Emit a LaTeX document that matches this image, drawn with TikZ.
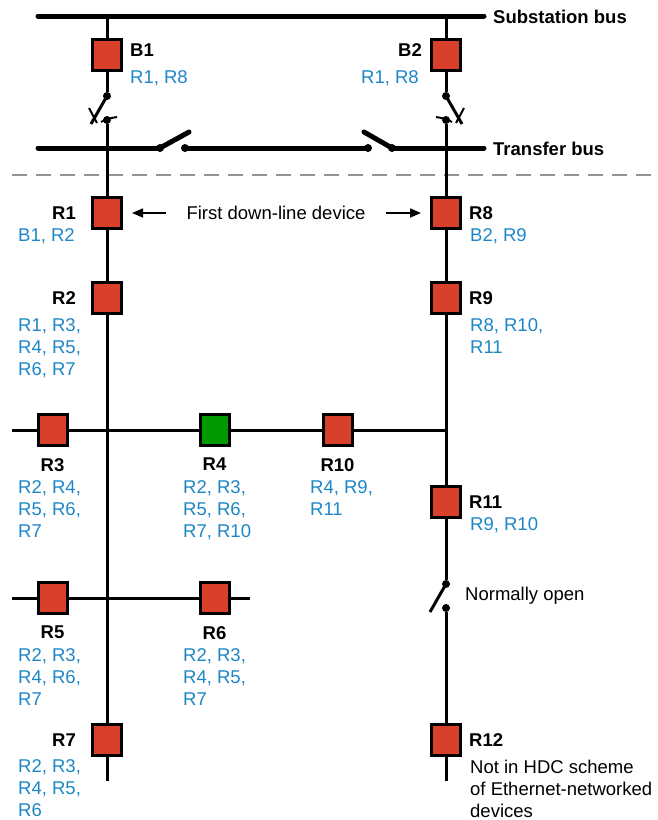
\documentclass[tikz,border=0pt]{standalone}
\usepackage{fontspec}
\setmainfont{Liberation Sans}
\usetikzlibrary{positioning,arrows.meta}
\definecolor{boxred}{HTML}{D9402A}
\definecolor{boxgreen}{HTML}{009A00}
\definecolor{nbblue}{HTML}{1C86C6}

\begin{document}
\begin{tikzpicture}[x=1pt, y=-1pt,
  Rb/.style={draw, line width=3pt, fill=boxred, minimum width=29pt,
    minimum height=31pt, inner sep=0pt},
  Gb/.style={Rb, fill=boxgreen},
  nm/.style={font=\fontsize{18.5}{22}\selectfont\bfseries, inner sep=0pt},
  nb/.style={font=\fontsize{18.5}{22}\selectfont, text=nbblue, align=left,
    inner sep=0pt},
  nt/.style={nb, text=black},
  bus/.style={line width=5pt, line cap=round},
  wire/.style={line width=3pt},
  Sd/.style={circle, fill, inner sep=0pt, minimum size=8pt},
  arr/.style={line width=1.5pt, -{Triangle[length=11pt,width=9pt]}}]
\useasboundingbox (0,0) rectangle (657,820);

% buses
\coordinate (sbL) at (38,16);
\coordinate (sbR) at (484,16);
\draw[bus] (sbL) -- (sbR);
\node[nm, anchor=west] (sbus) at (493,17) {Substation bus};

\node[Sd] (s1a) at (160,148) {};
\node[Sd] (s1b) at (185,148) {};
\node[Sd] (s2a) at (368,148) {};
\node[Sd] (s2b) at (392,148) {};
\coordinate (tbL) at (38,148);
\coordinate (tbR) at (484,148);
\draw[bus] (tbL) -- (s1a.center);
\draw[bus] (s1b.center) -- (s2a.center);
\draw[bus] (s2b.center) -- (tbR);
\draw[bus] (s1a.center) -- (189,132);
\draw[bus] (s2b.center) -- (364,132);
\node[nm, anchor=west] (tbus) at (493,149) {Transfer bus};

\draw[gray!85, line width=2pt, dash pattern=on 15pt off 9pt] (12,175) -- (657,175);

% left feeder
\coordinate (t1) at (107,16);
\node[Rb] (B1) at (107,55) {};
\node[Sd] (d1) at (107,96) {};
\node[Sd] (d2) at (107,120) {};
\node[Rb] (R1) at (107,213) {};
\node[Rb] (R2) at (107,298) {};
\node[Rb] (R7) at (107,740) {};
\coordinate (e1) at (107,781);
\draw[wire] (t1) -- (B1) -- (d1);
\draw[wire] (d2) -- (R1) -- (R2) -- (R7) -- (e1);
\draw[wire] (d1.center) -- (91,124);
\draw[line width=2pt] (89,108) -- (97,123);
\draw[line width=2pt] (101,122) .. controls (106,119) and (111,118) .. (117,117);

% right feeder
\coordinate (t2) at (446,16);
\node[Rb] (B2) at (446,55) {};
\node[Sd] (d3) at (446,96) {};
\node[Sd] (d4) at (446,120) {};
\node[Rb] (R8) at (446,213) {};
\node[Rb] (R9) at (446,298) {};
\coordinate (j3) at (447.5,430);
\node[Rb] (R11) at (446,502) {};
\node[Sd] (d5) at (446,584) {};
\node[Sd] (d6) at (446,608) {};
\node[Rb] (R12) at (446,740) {};
\coordinate (e2) at (446,781);
\draw[wire] (t2) -- (B2) -- (d3);
\draw[wire] (d4) -- (R8) -- (R9) -- (R11) -- (d5);
\draw[wire] (d6) -- (R12) -- (e2);
\draw[wire] (d3.center) -- (462,124);
\draw[line width=2pt] (464,108) -- (456,123);
\draw[line width=2pt] (452,122) .. controls (447,119) and (442,118) .. (436,117);
\draw[wire] (d5.center) -- (430,612);
\node[nt, anchor=west] (nopen) at (465,596) {Normally open};

% laterals
\coordinate (h1) at (12,430);
\node[Rb] (R3) at (52.5,430) {};
\node[Gb] (R4) at (214.5,430) {};
\node[Rb] (R10) at (337.5,430) {};
\draw[wire] (h1) -- (R3) -- (R4) -- (R10) -- (j3);
\coordinate (h2) at (12,598);
\node[Rb] (R5) at (52.5,598) {};
\node[Rb] (R6) at (214.5,598) {};
\coordinate (h3) at (250,598);
\draw[wire] (h2) -- (R5) -- (R6) -- (h3);

% names
\node[nm, anchor=west] (B1n) at (130,50) {B1};
\node[nm, anchor=east] (B2n) at (422,50) {B2};
\node[nm, left=15pt of R1] (R1n) {R1};
\node[nm, left=15pt of R2] (R2n) {R2};
\node[nm, left=15pt of R7] (R7n) {R7};
\node[nm, right=7pt of R8] (R8n) {R8};
\node[nm, right=7pt of R9] (R9n) {R9};
\node[nm, right=7pt of R11] (R11n) {R11};
\node[nm, right=7pt of R12] (R12n) {R12};
\node[nm, below=11pt of R3] (R3n) {R3};
\node[nm, below=11pt of R4] (R4n) {R4};
\node[nm, below=11pt of R10] (R10n) {R10};
\node[nm, below=11pt of R5] (R5n) {R5};
\node[nm, below=11pt of R6] (R6n) {R6};

% neighbours
\node[nb, anchor=north west] (B1b) at (130,70.5) {R1, R8};
\node[nb, anchor=north east] (B2b) at (419,70.5) {R1, R8};
\node[nb, anchor=north west] (R1b) at (18,228.5) {B1, R2};
\node[nb, anchor=north west] (R8b) at (470,228.5) {B2, R9};
\node[nb, anchor=north west] (R2b) at (18,318.5) {R1, R3,\\R4, R5,\\R6, R7};
\node[nb, anchor=north west] (R9b) at (470,318.5) {R8, R10,\\R11};
\node[nb, anchor=north west] (R3b) at (18,480.5) {R2, R4,\\R5, R6,\\R7};
\node[nb, anchor=north west] (R4b) at (183,480.5) {R2, R3,\\R5, R6,\\R7, R10};
\node[nb, anchor=north west] (R10b) at (310,480.5) {R4, R9,\\R11};
\node[nb, anchor=north west] (R11b) at (470,517.5) {R9, R10};
\node[nb, anchor=north west] (R5b) at (18,648.5) {R2, R3,\\R4, R6,\\R7};
\node[nb, anchor=north west] (R6b) at (183,648.5) {R2, R3,\\R4, R5,\\R7};
\node[nb, anchor=north west] (R7b) at (18,759.5) {R2, R3,\\R4, R5,\\R6};
\node[nt, anchor=north west] (R12b) at (470,759.5) {Not in HDC scheme\\of Ethernet-networked\\devices};

% first device
\node[nt] (fd) at (276,213) {First down-line device};
\draw[arr, shorten <=20pt, shorten >=9pt] (fd) -- (R1);
\draw[arr, shorten <=20pt, shorten >=9pt] (fd) -- (R8);
\end{tikzpicture}
\end{document}
